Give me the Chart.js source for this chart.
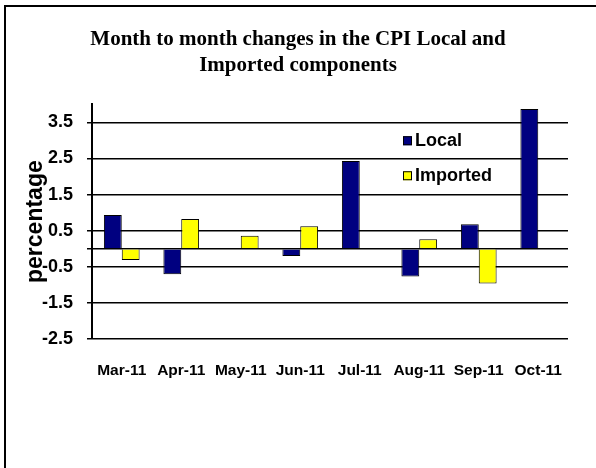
<!DOCTYPE html>
<html>
<head>
<meta charset="utf-8">
<script src="https://cdn.jsdelivr.net/npm/chart.js@4/dist/chart.umd.min.js"></script>
<style>
  body { margin: 0; background: #fff; }
  canvas { display: block; }
</style>
</head>
<body>
<canvas id="cpiChart" width="596" height="468"></canvas>
<script>
const months = ["Mar-11", "Apr-11", "May-11", "Jun-11", "Jul-11", "Aug-11", "Sep-11", "Oct-11"];
const localChanges = [0.93, -0.71, 0, -0.2, 2.43, -0.77, 0.68, 3.87];
const importedChanges = [-0.31, 0.82, 0.36, 0.62, 0, 0.26, -0.96, 0];
const yTicks = [-2.5, -1.5, -0.5, 0, 0.5, 1.5, 2.5, 3.5];

// frame round the whole picture (only top and left show)
const framePlugin = {
  id: "frame",
  beforeDraw(chart) {
    const ctx = chart.ctx;
    ctx.save();
    ctx.fillStyle = "#fff";
    ctx.fillRect(0, 0, chart.width, chart.height);
    ctx.fillStyle = "#000";
    ctx.fillRect(4, 5, 2, chart.height - 5);
    ctx.fillRect(4, 5, chart.width - 4, 2);
    ctx.restore();
  },
};

// legend sits inside the plot, like the excel one
const innerLegend = {
  id: "innerLegend",
  afterDatasetsDraw(chart) {
    const ctx = chart.ctx;
    const area = chart.chartArea;
    ctx.save();
    ctx.font = "bold 18px 'Liberation Sans', Arial, sans-serif";
    ctx.textBaseline = "middle";
    chart.data.datasets.forEach((ds, i) => {
      const x = area.left + 311;
      const y = area.top + 37 + i * 35;
      ctx.fillStyle = ds.backgroundColor;
      ctx.fillRect(x, y - 5, 9, 9);
      ctx.strokeStyle = "#000";
      ctx.lineWidth = 1;
      ctx.strokeRect(x + 0.5, y - 4.5, 8, 8);
      ctx.fillStyle = "#000";
      ctx.fillText(ds.label, x + 12, y);
    });
    ctx.restore();
  },
};

const chart = new Chart(document.getElementById("cpiChart"), {
  type: "bar",
  data: {
    labels: months,
    datasets: [
      {
        label: "Local",
        data: localChanges,
        backgroundColor: "#000080",
        borderColor: "#000",
        borderWidth: 1,
      },
      {
        label: "Imported",
        data: importedChanges,
        backgroundColor: "#ffff00",
        borderColor: "#000",
        borderWidth: 1,
      },
    ],
  },
  options: {
    responsive: false,
    devicePixelRatio: 1,
    animation: false,
    layout: { padding: 0 },
    datasets: { bar: { categoryPercentage: 0.6, barPercentage: 1 } },
    plugins: {
      legend: { display: false },
      tooltip: { enabled: false },
      title: {
        display: true,
        text: ["Month to month changes in the CPI Local and", "Imported components"],
        color: "#000",
        font: { family: "'Liberation Serif', 'Times New Roman', serif", size: 21, weight: "bold", lineHeight: 1.22 },
        padding: { top: 27, bottom: 26 },
      },
    },
    scales: {
      x: {
        grid: { display: false, drawTicks: false },
        border: { display: false },
        ticks: {
          color: "#000",
          padding: 22,
          maxRotation: 0,
          autoSkip: false,
          font: { family: "'Liberation Sans', Arial, sans-serif", size: 15.5, weight: "bold" },
        },
        afterFit(scale) {
          scale.height = 129;
        },
      },
      y: {
        min: -2.5,
        max: 4,
        afterBuildTicks(scale) {
          scale.ticks = yTicks.map((v) => ({ value: v }));
        },
        afterFit(scale) {
          scale.width = 92;
        },
        grid: { color: "#000", lineWidth: 1.5, tickLength: 5 },
        border: { display: true, color: "#000", width: 2 },
        ticks: {
          color: "#000",
          padding: 14,
          autoSkip: false,
          font: { family: "'Liberation Sans', Arial, sans-serif", size: 18, weight: "bold" },
          callback: (v) => (v === 0 ? "" : v.toFixed(1)),
        },
        title: {
          display: true,
          text: "percentage",
          color: "#000",
          padding: { top: 22, bottom: 0 },
          font: { family: "'Liberation Sans', Arial, sans-serif", size: 23, weight: "bold" },
        },
      },
      // empty right-hand axis, only keeps the plot's right margin
      spacer: {
        type: "linear",
        position: "right",
        grid: { display: false, drawTicks: false },
        border: { display: false },
        ticks: { display: false },
        afterFit(scale) {
          scale.width = 28;
        },
      },
    },
  },
  plugins: [framePlugin, innerLegend],
});
</script>
</body>
</html>
